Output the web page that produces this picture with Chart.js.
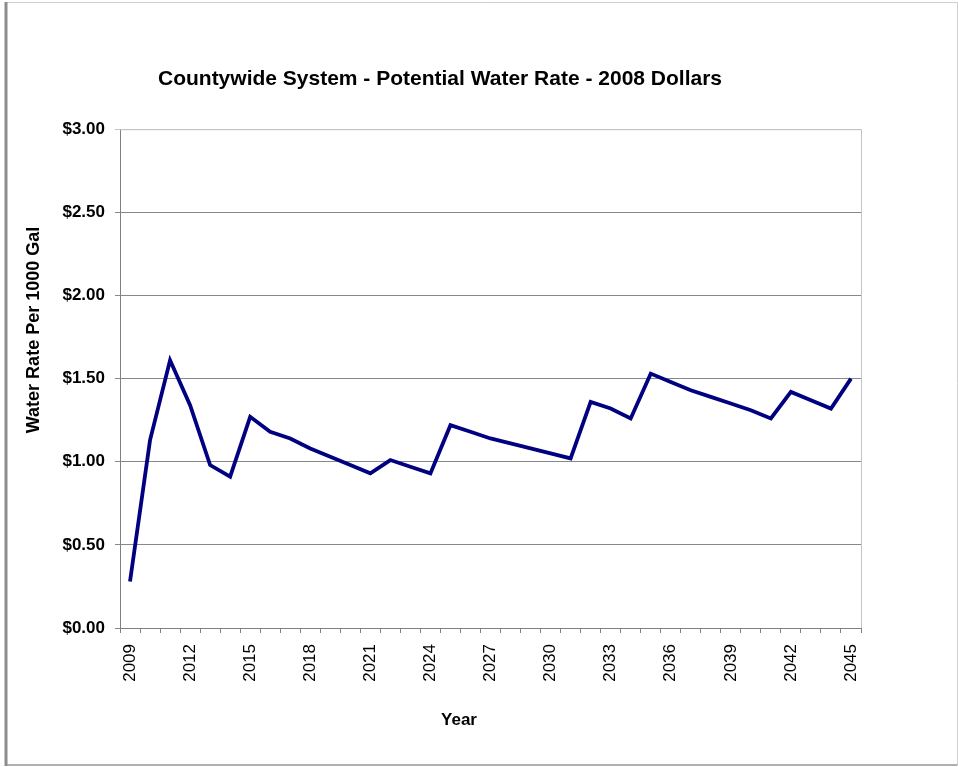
<!DOCTYPE html>
<html>
<head>
<meta charset="utf-8">
<script src="https://cdn.jsdelivr.net/npm/chart.js@4"></script>
<style>
  body { margin: 0; background: #fff; }
</style>
</head>
<body>
<canvas id="rateChart" width="958" height="767"></canvas>
<script>
const years = [
  "2009", "2010", "2011", "2012", "2013", "2014", "2015", "2016", "2017", "2018",
  "2019", "2020", "2021", "2022", "2023", "2024", "2025", "2026", "2027", "2028",
  "2029", "2030", "2031", "2032", "2033", "2034", "2035", "2036", "2037", "2038",
  "2039", "2040", "2041", "2042", "2043", "2044", "2045",
];
const waterRate = [
  0.28, 1.13, 1.61, 1.34, 0.98, 0.91, 1.27, 1.18, 1.14, 1.08,
  1.03, 0.98, 0.93, 1.01, 0.97, 0.93, 1.22, 1.18, 1.14, 1.11,
  1.08, 1.05, 1.02, 1.36, 1.32, 1.26, 1.53, 1.48, 1.43, 1.39,
  1.35, 1.31, 1.26, 1.42, 1.37, 1.32, 1.50,
];
const yTicks = [0, 0.5, 1, 1.5, 2, 2.5, 3];

const chartTitle = "Countywide System - Potential Water Rate - 2008 Dollars";
const yTitle = "Water Rate Per 1000 Gal";
const xTitle = "Year";

const FONT = "'Liberation Sans', Arial, sans-serif";

// frame around the whole picture, light plot border, axis titles (Excel puts them off-centre)
const framePlugin = {
  id: "frame",
  beforeDraw(chart) {
    const c = chart.ctx;
    c.save();
    c.fillStyle = "#fff";
    c.fillRect(0, 0, chart.width, chart.height);
    c.lineWidth = 1;
    c.strokeStyle = "#d0d0d0";
    c.beginPath();
    c.moveTo(5, 2.5); c.lineTo(957.5, 2.5);
    c.moveTo(957.5, 2.5); c.lineTo(957.5, 765);
    c.stroke();
    c.strokeStyle = "#b0b0b0";
    c.lineWidth = 2;
    c.beginPath();
    c.moveTo(5, 765); c.lineTo(957.5, 765);
    c.stroke();
    c.strokeStyle = "#8c8c8c";
    c.lineWidth = 3;
    c.beginPath();
    c.moveTo(6, 2); c.lineTo(6, 766);
    c.stroke();
    c.restore();
  },
  beforeDatasetsDraw(chart) {
    const a = chart.chartArea;
    const c = chart.ctx;
    c.save();
    c.strokeStyle = "#c4c4c4";
    c.lineWidth = 1;
    c.beginPath();
    c.moveTo(a.left, a.top + 0.5);
    c.lineTo(a.right + 0.5, a.top + 0.5);
    c.lineTo(a.right + 0.5, a.bottom);
    c.stroke();
    c.restore();
  },
  afterDraw(chart) {
    const c = chart.ctx;
    c.save();
    c.fillStyle = "#000";
    c.textAlign = "center";
    c.textBaseline = "middle";
    c.font = "bold 17px " + FONT;
    c.fillText(xTitle, 459, 720);
    c.translate(34, 330);
    c.rotate(-Math.PI / 2);
    c.font = "bold 18px " + FONT;
    c.fillText(yTitle, 0, 0);
    c.restore();
  },
};

const ctx = document.getElementById("rateChart").getContext("2d");
const rateChart = new Chart(ctx, {
  type: "line",
  data: {
    labels: years,
    datasets: [
      {
        label: "Water Rate",
        data: waterRate,
        borderColor: "#000080",
        backgroundColor: "#000080",
        borderWidth: 3.8,
        pointRadius: 0,
        tension: 0,
        fill: false,
      },
    ],
  },
  plugins: [framePlugin],
  options: {
    responsive: false,
    animation: false,
    layout: {
      padding: { left: 19, right: 97, top: 0, bottom: 0 },
    },
    plugins: {
      legend: { display: false },
      tooltip: { enabled: false },
      title: {
        display: true,
        text: chartTitle,
        color: "#000",
        font: { family: FONT, size: 21, weight: "bold" },
        padding: { top: 67, bottom: 37 },
      },
    },
    scales: {
      x: {
        type: "category",
        offset: true,
        afterFit: (scale) => { scale.height = 139; },
        grid: {
          offset: true,
          drawOnChartArea: false,
          drawTicks: true,
          tickLength: 5,
          color: "#808080",
        },
        border: { color: "#808080", width: 1 },
        ticks: {
          autoSkip: false,
          maxRotation: 90,
          minRotation: 90,
          padding: 11,
          color: "#000",
          font: { family: FONT, size: 17 },
          callback: function (value, index) {
            return index % 3 === 0 ? years[index] : "";
          },
        },
      },
      y: {
        min: 0,
        max: 3,
        afterFit: (scale) => { scale.width = 101; },
        afterBuildTicks: (scale) => {
          scale.ticks = yTicks.map((v) => ({ value: v }));
        },
        grid: {
          drawTicks: true,
          tickLength: 5,
          color: (c) => (c.tick && c.tick.value === 3 ? "#c4c4c4" : "#888888"),
        },
        border: { color: "#808080", width: 1 },
        ticks: {
          padding: 10,
          color: "#000",
          font: { family: FONT, size: 17, weight: "bold" },
          callback: function (value) {
            return "$" + Number(value).toFixed(2);
          },
        },
      },
    },
  },
});
</script>
</body>
</html>
